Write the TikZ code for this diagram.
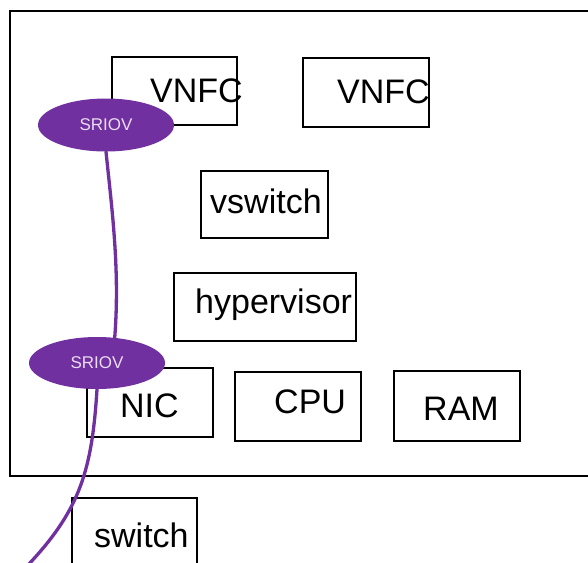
\documentclass[tikz,border=0pt]{standalone}
\usepackage{fontspec}
\setmainfont{Liberation Sans}
\usetikzlibrary{shapes.geometric}
\definecolor{srpurple}{HTML}{7030A0}
\definecolor{srtext}{HTML}{EADCF2}
\tikzset{
  box/.style={draw=black, line width=2.2pt, rectangle, inner sep=0pt, anchor=north west},
  lbl/.style={inner sep=0pt, anchor=base west, font=\fontsize{34}{40}\selectfont},
  sriov/.style={ellipse, fill=srpurple, draw=none, inner sep=0pt, minimum width=136pt, minimum height=53pt,
                text=srtext, font=\fontsize{17}{20}\selectfont},
  link/.style={draw=srpurple, line width=3.3pt, line cap=round}
}
\begin{document}
\begin{tikzpicture}[x=1pt,y=-1pt]
\useasboundingbox (0,0) rectangle (588,562);
\clip (0,0) rectangle (588,562);
\fill[white] (0,0) rectangle (588,562);
% outer host frame
\node[box, line width=2.4pt, minimum width=590pt, minimum height=465pt] (host) at (9,10) {};
% boxes
\node[box, minimum width=125pt, minimum height=68pt] (vnfc1) at (111,56) {};
\node[lbl] (tvnfc1) at (150,102) {VNFC};
\node[box, minimum width=126pt, minimum height=69pt] (vnfc2) at (302,57) {};
\node[lbl] (tvnfc2) at (337,103) {VNFC};
\node[box, minimum width=127pt, minimum height=67pt] (vsw) at (200,170) {};
\node[lbl] (tvsw) at (210,213) {vswitch};
\node[box, minimum width=182pt, minimum height=68pt] (hyp) at (173,272) {};
\node[lbl] (thyp) at (195,313) {hypervisor};
\node[box, minimum width=126pt, minimum height=69pt] (nic) at (86,367) {};
\node[lbl] (tnic) at (120,417) {NIC};
\node[box, minimum width=126pt, minimum height=69pt] (cpu) at (234,371) {};
\node[lbl] (tcpu) at (274,413) {CPU};
\node[box, minimum width=126pt, minimum height=70pt] (ram) at (393,370) {};
\node[lbl] (tram) at (423,420) {RAM};
\node[box, minimum width=125pt, minimum height=90pt] (sw) at (71,497) {};
\node[lbl] (tsw) at (94,547) {switch};
% SRIOV ellipses
\node[sriov] (s1) at (106,125) {SRIOV};
\node[sriov, minimum height=52pt] (s2) at (97,363) {SRIOV};
\coordinate (wire) at (28,565);
% purple link
\path[link] (s1.south) .. controls (112,210) and (120,270) .. (s2.55);
\path[link] (s2.south) .. controls (92,470) and (80,510) .. (wire);
\end{tikzpicture}
\end{document}
